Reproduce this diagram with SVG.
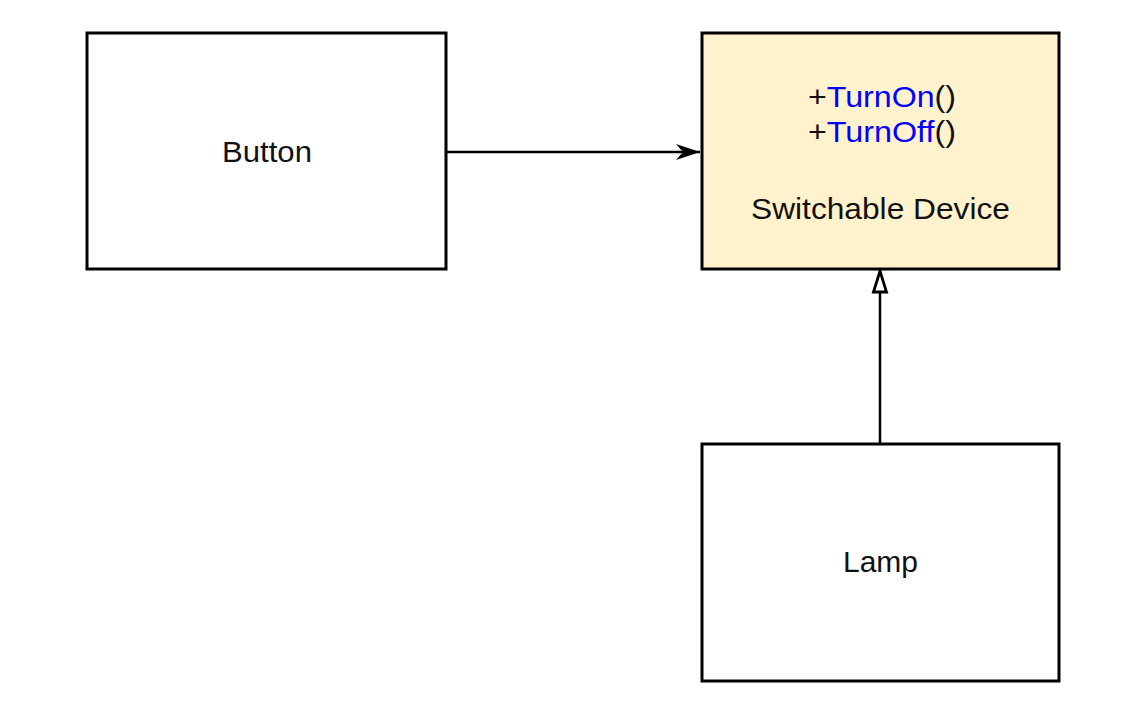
<svg xmlns="http://www.w3.org/2000/svg" width="1138" height="708" viewBox="0 0 1138 708">
<style>
.box{stroke:#000;stroke-width:3;fill:#fff}
.yel{fill:#fff2cc}
text{font-family:"Liberation Sans",Arial,sans-serif;font-size:29px;fill:#111;text-anchor:middle}
.blue{fill:#0000ff}
.ln{stroke:#000;stroke-width:2.5;fill:none}
</style>
<defs>
<marker id="open" viewBox="0 0 26 18" refX="24" refY="9" markerWidth="26" markerHeight="18" markerUnits="userSpaceOnUse" orient="auto">
<path d="M0,1 L24,9 L0,17 L7,9 Z" fill="#000"/>
</marker>
<marker id="tri" viewBox="0 0 26 18" refX="24" refY="9" markerWidth="26" markerHeight="18" markerUnits="userSpaceOnUse" orient="auto">
<path d="M2,2.5 L23,9 L2,15.5 Z" fill="#fff" stroke="#000" stroke-width="2.8"/>
</marker>
</defs>
<rect width="1138" height="708" fill="#fff"/>
<g id="connectors">
<line class="ln" x1="446" y1="152" x2="700" y2="152" marker-end="url(#open)"/>
<line class="ln" x1="880" y1="444" x2="880" y2="270" marker-end="url(#tri)"/>
</g>
<g id="button">
<rect class="box" x="87" y="33" width="359" height="236"/>
<text x="267" y="161.5" textLength="90" lengthAdjust="spacingAndGlyphs">Button</text>
</g>
<g id="switchable">
<rect class="box yel" x="702" y="33" width="357" height="236"/>
<text x="882" y="107" textLength="148" lengthAdjust="spacingAndGlyphs">+<tspan class="blue">TurnOn</tspan>()</text>
<text x="882" y="142" textLength="148" lengthAdjust="spacingAndGlyphs">+<tspan class="blue">TurnOff</tspan>()</text>
<text x="880.5" y="219" textLength="259" lengthAdjust="spacingAndGlyphs">Switchable Device</text>
</g>
<g id="lamp">
<rect class="box" x="702" y="444" width="357" height="237"/>
<text x="880.5" y="571.5" textLength="75" lengthAdjust="spacingAndGlyphs">Lamp</text>
</g>
</svg>
